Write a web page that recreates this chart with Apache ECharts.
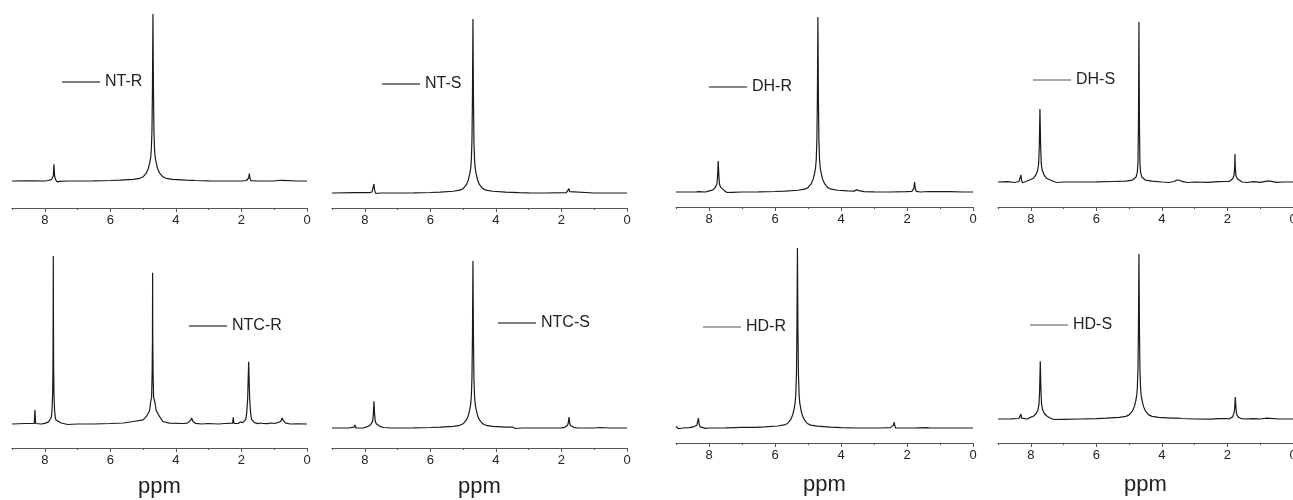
<!DOCTYPE html>
<html>
<head>
<meta charset="utf-8">
<script src="https://cdn.jsdelivr.net/npm/echarts@6/dist/echarts.min.js"></script>
<style>
  html, body { margin: 0; padding: 0; background: #fff; }
  #chart { width: 1293px; height: 500px; }
</style>
</head>
<body>
<div id="chart"></div>
<script>
// spectrum data: [ppm, intensity], tallest peak of each panel = 100
var ntR = [[9,0],[8.6,0.1],[8.32,0.1],[8.3,0.6],[8.28,0],[8.0,0],[7.9,0.3],[7.8,0.8],[7.76,1.6],[7.74,3],[7.72,10],[7.7,3],[7.67,0.8],[7.62,-0.5],[7.55,-0.2],[7.3,0],[6.5,0.1],[6.0,0.3],[5.7,0.5],[5.3,1.0],[5.1,1.6],[5.0,2.5],[4.9,4.8],[4.84,7.5],[4.8,10.8],[4.77,14],[4.75,18.6],[4.73,30],[4.715,55],[4.7,100],[4.685,55],[4.67,30],[4.65,18.6],[4.63,14],[4.6,10.8],[4.56,7.5],[4.5,4.8],[4.4,2.5],[4.3,1.6],[4.1,1.0],[3.7,0.5],[3.5,0.4],[3.45,0.8],[3.4,0.3],[3.0,0.1],[2.5,0],[2.0,0],[1.85,0.3],[1.8,0.8],[1.78,1.8],[1.76,4.5],[1.74,1.5],[1.71,0.2],[1.66,-0.3],[1.5,0],[1.0,0],[0.9,0.3],[0.85,0],[0.75,0.4],[0.7,0.1],[0.3,0],[0,0]];

var ntS = [[9,0],[8.3,0.2],[7.85,0.2],[7.78,0.6],[7.74,1.5],[7.72,5.2],[7.7,1.5],[7.66,-0.3],[7.5,0],[6.5,0.1],[6,0.3],[5.7,0.5],[5.3,1.0],[5.1,1.6],[5.0,2.5],[4.9,4.8],[4.84,7.5],[4.8,10.8],[4.77,14],[4.75,18.6],[4.73,30],[4.715,55],[4.7,100],[4.685,55],[4.67,30],[4.65,18.6],[4.63,14],[4.6,10.8],[4.56,7.5],[4.5,4.8],[4.4,2.5],[4.3,1.6],[4.1,1.0],[3.7,0.5],[3.3,0.2],[3.0,0.1],[2.5,0],[1.85,0.2],[1.79,1],[1.77,2.5],[1.75,0.8],[1.7,0],[1.0,0],[0,0]];

var dhR = [[9,0],[8.4,0],[8.32,0.2],[8.3,1.2],[8.28,0],[8.1,0],[8.02,0.5],[7.92,0.9],[7.84,1.8],[7.79,2.8],[7.76,4.4],[7.74,8.8],[7.72,17.7],[7.7,8.8],[7.68,4.4],[7.65,2.8],[7.6,1.8],[7.52,0.5],[7.45,-0.3],[7.3,-0.2],[7.0,0],[6.5,0.1],[6,0.3],[5.7,0.5],[5.3,1.0],[5.1,1.6],[5.0,2.5],[4.9,4.8],[4.84,7.5],[4.8,10.8],[4.77,14],[4.75,18.6],[4.73,30],[4.715,55],[4.7,100],[4.685,55],[4.67,30],[4.65,18.6],[4.63,14],[4.6,10.8],[4.56,7.5],[4.5,4.8],[4.4,2.5],[4.3,1.6],[4.1,1.0],[3.8,0.6],[3.6,0.5],[3.53,1.2],[3.5,1.8],[3.46,0.8],[3.3,0.2],[3.0,0.1],[2.5,0],[2.02,0.2],[2.0,0.8],[1.97,0.1],[1.85,0.4],[1.8,1.2],[1.79,2.2],[1.77,5.7],[1.75,2],[1.72,0.4],[1.6,0],[1.35,0.3],[1.3,0],[0.8,0.2],[0.75,1],[0.7,0.2],[0.3,0],[0,0]];

var dhS = [[9,0],[8.7,0.2],[8.5,-0.3],[8.36,0.3],[8.32,1.5],[8.3,4.4],[8.28,1],[8.25,-0.5],[8.15,0.3],[8.02,1.4],[7.92,2.3],[7.84,4.6],[7.79,7.3],[7.76,11.4],[7.74,22.8],[7.72,45.6],[7.7,22.8],[7.68,11.4],[7.65,7.3],[7.6,4.6],[7.52,2.3],[7.42,1.4],[7.3,0.3],[7.2,-0.3],[7.0,0],[6.5,0],[6,0.1],[5.5,0.3],[5.1,0.5],[4.9,1.2],[4.79,3],[4.75,6],[4.73,12],[4.715,35],[4.7,100],[4.685,35],[4.67,12],[4.65,6],[4.61,3],[4.5,1.2],[4.3,0.5],[4.0,0],[3.8,-0.3],[3.62,0.3],[3.55,1.2],[3.5,1.9],[3.45,1.1],[3.37,0.2],[3.2,-0.3],[3.0,0],[2.6,-0.2],[2.27,0.2],[2.25,1.2],[2.22,0],[2.05,0.3],[2.0,1.2],[1.95,0.3],[1.9,0.8],[1.84,2],[1.8,4],[1.78,8.8],[1.77,17.5],[1.76,8.8],[1.74,4],[1.7,2],[1.64,0.8],[1.55,0],[1.4,-0.3],[1.2,0.2],[1.0,-0.2],[0.8,0.5],[0.75,1.2],[0.7,0.6],[0.5,-0.2],[0.3,0],[0,0]];

var ntcR = [[9,0],[8.6,0.3],[8.32,0.3],[8.3,8.3],[8.28,0.3],[8.25,-0.6],[8.1,0],[8.0,0.4],[7.95,0.8],[7.88,1.3],[7.82,2.4],[7.8,4],[7.78,8],[7.76,18],[7.75,35],[7.745,60],[7.74,100],[7.735,60],[7.73,35],[7.72,18],[7.7,8],[7.68,4],[7.66,2.4],[7.6,1.3],[7.5,0.6],[7.3,-0.3],[7.0,0],[6.5,0],[6.0,0.3],[5.6,0.6],[5.3,1.5],[5.0,2.5],[4.9,4.5],[4.8,8],[4.775,12.5],[4.74,16],[4.725,30],[4.715,50],[4.71,90],[4.705,50],[4.695,30],[4.68,16],[4.635,12.5],[4.6,8],[4.5,4.5],[4.4,1.5],[4.2,0.5],[3.8,0.3],[3.65,0.5],[3.56,2],[3.52,3.6],[3.48,1.5],[3.4,0.4],[3.2,0],[3.02,0.3],[3.0,1.2],[2.97,0.2],[2.7,0],[2.5,0.3],[2.27,0.5],[2.25,4],[2.23,0.3],[2.1,0.3],[2.03,1.2],[2.0,2],[1.96,0.8],[1.9,0.8],[1.87,2.6],[1.84,6.5],[1.81,15],[1.79,30],[1.78,37],[1.77,30],[1.75,15],[1.72,6.5],[1.69,2.6],[1.6,0.8],[1.5,0.2],[1.42,0.6],[1.39,1],[1.35,0.3],[1.2,0.2],[1.1,0.6],[1.0,0.3],[0.9,0.8],[0.85,0.4],[0.8,1.5],[0.76,3.6],[0.72,2],[0.65,0.5],[0.5,0],[0.3,0.1],[0,0]];

var ntcS = [[9,0],[8.5,0],[8.33,0.5],[8.3,1.8],[8.27,0],[8.22,-0.3],[8.05,0],[8.02,0.5],[7.92,0.8],[7.84,1.6],[7.79,2.6],[7.76,4],[7.74,8],[7.72,16],[7.7,8],[7.68,4],[7.65,2.6],[7.6,1.6],[7.52,0.8],[7.42,0.3],[7.2,0],[6.5,0.1],[6,0.3],[5.7,0.5],[5.3,1.0],[5.1,1.6],[5.0,2.5],[4.9,4.8],[4.84,7.5],[4.8,10.8],[4.77,14],[4.75,18.6],[4.73,30],[4.715,55],[4.7,100],[4.685,55],[4.67,30],[4.65,18.6],[4.63,14],[4.6,10.8],[4.56,7.5],[4.5,4.8],[4.4,2.5],[4.3,1.6],[4.1,1.0],[3.7,0.5],[3.55,0.6],[3.52,1.2],[3.48,0.5],[3.4,-0.3],[3.2,0],[2.5,0],[2.0,0.1],[1.9,0.4],[1.84,1],[1.81,1.7],[1.79,3.3],[1.77,6.6],[1.75,3.3],[1.73,1.7],[1.7,0.8],[1.6,0.2],[1.5,0],[1.0,0],[0.82,0.3],[0.8,0.6],[0.77,0.2],[0.5,0],[0,0]];

var hdR = [[9,0.8],[8.97,0.2],[8.92,-0.4],[8.8,0],[8.6,0.2],[8.45,0.8],[8.37,1.5],[8.34,2.5],[8.32,5.5],[8.3,2.2],[8.27,0.6],[8.22,-0.3],[8.1,-0.2],[8.0,0],[7.5,0.1],[7.0,0.3],[6.6,0.4],[6.32,0.6],[5.92,1.1],[5.72,1.7],[5.62,2.5],[5.52,4.8],[5.46,7.5],[5.42,10.8],[5.39,14],[5.37,18.6],[5.35,30],[5.335,55],[5.32,100],[5.305,55],[5.29,30],[5.27,18.6],[5.25,14],[5.22,10.8],[5.18,7.5],[5.12,4.8],[5.02,2.5],[4.92,1.6],[4.72,1.0],[4.32,0.5],[4.0,0.2],[3.5,0],[2.8,0],[2.5,0.2],[2.44,0.8],[2.41,1.6],[2.39,3.3],[2.37,1.2],[2.34,0],[2.3,-0.3],[2.2,0],[1.8,0],[1.4,0.2],[1.35,0.6],[1.3,0],[1.0,0],[0,0]];

var hdS = [[9,0],[8.6,0.1],[8.36,0.3],[8.32,1.5],[8.3,3],[8.28,0.5],[8.24,-0.4],[8.1,0],[8.01,1.0],[7.91,1.8],[7.83,3.5],[7.78,5.6],[7.75,8.8],[7.73,17.5],[7.71,35],[7.69,17.5],[7.67,8.8],[7.64,5.6],[7.59,3.5],[7.51,1.8],[7.41,0.6],[7.3,-0.3],[7.0,-0.2],[6.5,0],[6.0,0.2],[5.7,0.5],[5.3,1.0],[5.1,1.6],[5.0,2.5],[4.9,4.8],[4.84,7.5],[4.8,10.8],[4.77,14],[4.75,18.6],[4.73,30],[4.715,55],[4.7,100],[4.685,55],[4.67,30],[4.65,18.6],[4.63,14],[4.6,10.8],[4.56,7.5],[4.5,4.8],[4.4,2.5],[4.3,1.6],[4.1,1.0],[3.7,0.5],[3.5,0.5],[3.45,0.8],[3.4,0.3],[3.0,0],[2.5,-0.1],[2.27,0.2],[2.25,1.2],[2.22,0],[2.03,0.3],[2.0,0.9],[1.96,0],[1.9,0.5],[1.84,1.3],[1.81,2.5],[1.79,4.5],[1.78,6.6],[1.76,13.3],[1.74,6.6],[1.72,3],[1.68,1.3],[1.6,0.4],[1.5,0],[1.2,0.2],[1.0,0],[0.8,0.5],[0.75,1],[0.7,0.4],[0.4,0],[0,0]];

var names = ['NT-R', 'NT-S', 'DH-R', 'DH-S', 'NTC-R', 'NTC-S', 'HD-R', 'HD-S'];
var spectra = [ntR, ntS, dhR, dhS, ntcR, ntcS, hdR, hdS];
var majorTicks = [0, 2, 4, 6, 8];
var minorTicks = [1, 3, 5, 7, 9];
var xLabel = 'ppm';

// panel layout in px: axis left/right, peak top, baseline, axis line, legend pos
var panels = [
    { left: 12,  right: 307,  top: 14,  base: 181, axisY: 208, lx: 62,   ly: 82,  lc: '#000' },
    { left: 332, right: 627,  top: 19,  base: 193, axisY: 208, lx: 382,  ly: 84,  lc: '#000' },
    { left: 676, right: 973,  top: 17,  base: 192, axisY: 207, lx: 709,  ly: 87,  lc: '#111' },
    { left: 998, right: 1293, top: 22,  base: 182, axisY: 207, lx: 1033, ly: 80,  lc: '#555' },
    { left: 12,  right: 307,  top: 256, base: 424, axisY: 448, lx: 189,  ly: 326, lc: '#000', nameGap: 28 },
    { left: 332, right: 627,  top: 261, base: 428, axisY: 448, lx: 498,  ly: 323, lc: '#000', nameGap: 28 },
    { left: 676, right: 973,  top: 248, base: 428, axisY: 443, lx: 703,  ly: 327, lc: '#555', nameGap: 31 },
    { left: 998, right: 1293, top: 254, base: 419, axisY: 443, lx: 1030, ly: 325, lc: '#555', nameGap: 31 }
];

var W = 1293, H = 500;
var font = '"Liberation Sans", Arial, sans-serif';

var grid = [], xAxis = [], yAxis = [], series = [], legend = [];

panels.forEach(function (p, i) {
    grid.push({
        left: p.left,
        right: W - p.right,
        top: p.top,
        bottom: H - p.axisY,
        outerBoundsMode: 'none'
    });
    var bottomRow = i >= 4;
    xAxis.push({
        gridIndex: i,
        type: 'value',
        min: 0,
        max: 9,
        interval: 2,
        inverse: true,
        position: 'bottom',
        name: bottomRow ? xLabel : '',
        nameLocation: 'middle',
        nameGap: p.nameGap || 20,
        nameTextStyle: { fontSize: 22, color: '#222', fontFamily: font },
        splitLine: { show: false },
        axisLine: { show: true, onZero: false, lineStyle: { color: '#555', width: 1 } },
        axisTick: { show: true, customValues: majorTicks, length: 4, lineStyle: { color: '#555' } },
        axisLabel: { customValues: majorTicks, fontSize: 13, color: '#222', margin: 6, fontFamily: font }
    });
    // second axis only for the short odd ticks
    xAxis.push({
        gridIndex: i,
        type: 'value',
        min: 0,
        max: 9,
        interval: 1,
        inverse: true,
        position: 'bottom',
        splitLine: { show: false },
        axisLine: { show: false, onZero: false },
        axisTick: { show: true, customValues: minorTicks, length: 2, lineStyle: { color: '#555' } },
        axisLabel: { show: false }
    });
    yAxis.push({
        gridIndex: i,
        type: 'value',
        show: false,
        min: -100 * (p.axisY - p.base) / (p.base - p.top),
        max: 100
    });
    series.push({
        name: names[i],
        type: 'line',
        xAxisIndex: i * 2,
        yAxisIndex: i,
        data: spectra[i],
        symbol: 'none',
        smooth: false,
        color: '#1a1a1a',
        lineStyle: { width: 1.2, color: '#1a1a1a' }
    });
    legend.push({
        data: [names[i]],
        icon: 'rect',
        left: p.lx,
        top: p.ly - 8,
        padding: 0,
        itemWidth: 38,
        itemHeight: 1.2,
        itemGap: 0,
        selectedMode: false,
        itemStyle: { color: p.lc, borderWidth: 0 },
        textStyle: { fontSize: 16, color: '#222', fontFamily: font }
    });
});

var chart = echarts.init(document.getElementById('chart'));
chart.setOption({
    animation: false,
    backgroundColor: '#fff',
    grid: grid,
    xAxis: xAxis,
    yAxis: yAxis,
    legend: legend,
    series: series
});
</script>
</body>
</html>
